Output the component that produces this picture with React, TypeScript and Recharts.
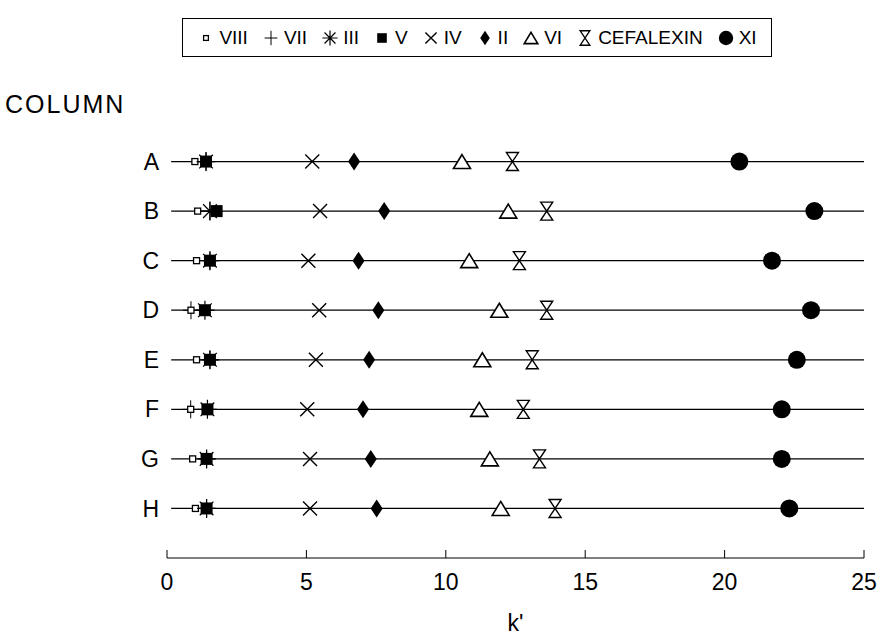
import React from 'react';
import { ScatterChart, Scatter, XAxis, YAxis, ReferenceLine } from 'recharts';

const columns = ['A', 'B', 'C', 'D', 'E', 'F', 'G', 'H'];
const xTicks = [0, 5, 10, 15, 20, 25];

// k' of each compound, one value per column A..H
const viii = [1.0, 1.1, 1.06, 0.86, 1.06, 0.85, 0.92, 1.02];
const vii = [1.4, 1.54, 1.54, 0.86, 1.54, 0.85, 1.42, 1.42];
const iii = [1.4, 1.54, 1.54, 1.36, 1.54, 1.45, 1.42, 1.42];
const v = [1.4, 1.78, 1.54, 1.36, 1.54, 1.45, 1.42, 1.42];
const iv = [5.21, 5.49, 5.07, 5.46, 5.34, 5.03, 5.13, 5.13];
const ii = [6.71, 7.79, 6.87, 7.58, 7.25, 7.03, 7.31, 7.52];
const vi = [10.58, 12.24, 10.84, 11.92, 11.31, 11.2, 11.58, 11.97];
const cefalexin = [12.39, 13.62, 12.64, 13.62, 13.1, 12.78, 13.36, 13.92];
const xi = [20.53, 23.22, 21.7, 23.1, 22.59, 22.05, 22.05, 22.32];

const FONT = '"Liberation Sans", Arial, Helvetica, sans-serif';

const rowY = (i: number) => columns.length - i;
const toPoints = (vals: number[]) => vals.map((k, i) => ({ k, y: rowY(i) }));

// marker drawings, s = scale
const drawOpenSquare = (cx: number, cy: number, s = 1) => (
  <rect x={cx - 3 * s} y={cy - 3 * s} width={6 * s} height={6 * s} fill="#fff" stroke="#000" strokeWidth={1.3} />
);
const drawPlus = (cx: number, cy: number, s = 1) => (
  <path d={`M${cx},${cy - 9 * s}V${cy + 9 * s}M${cx - 8 * s},${cy}H${cx + 8 * s}`} stroke="#000" strokeWidth={1} fill="none" />
);
const drawAsterisk = (cx: number, cy: number, s = 1) => {
  const r = 9.5 * s;
  const d = r * 0.72;
  return (
    <path
      d={`M${cx},${cy - r}V${cy + r}M${cx - r},${cy}H${cx + r}M${cx - d},${cy - d}L${cx + d},${cy + d}M${cx - d},${cy + d}L${cx + d},${cy - d}`}
      stroke="#000" strokeWidth={1.2} fill="none"
    />
  );
};
const drawFilledSquare = (cx: number, cy: number, s = 1) => (
  <rect x={cx - 6 * s} y={cy - 6 * s} width={12 * s} height={12 * s} fill="#000" />
);
const drawCross = (cx: number, cy: number, s = 1) => {
  const r = 7 * s;
  return <path d={`M${cx - r},${cy - r}L${cx + r},${cy + r}M${cx - r},${cy + r}L${cx + r},${cy - r}`} stroke="#000" strokeWidth={1.4} fill="none" />;
};
const drawDiamond = (cx: number, cy: number, s = 1) => (
  <path d={`M${cx},${cy - 9 * s}L${cx + 6 * s},${cy}L${cx},${cy + 9 * s}L${cx - 6 * s},${cy}Z`} fill="#000" />
);
const drawTriangle = (cx: number, cy: number, s = 1) => (
  <path d={`M${cx},${cy - 7 * s}L${cx + 8.5 * s},${cy + 7 * s}L${cx - 8.5 * s},${cy + 7 * s}Z`} fill="#fff" stroke="#000" strokeWidth={1.6} />
);
const drawHourglass = (cx: number, cy: number, s = 1) => (
  <path d={`M${cx - 6 * s},${cy - 9 * s}H${cx + 6 * s}L${cx - 6 * s},${cy + 9 * s}H${cx + 6 * s}Z`} fill="#fff" stroke="#000" strokeWidth={1.4} strokeLinejoin="miter" />
);
const drawDot = (cx: number, cy: number, s = 1) => <circle cx={cx} cy={cy} r={9 * s} fill="#000" />;

const series = [
  { name: 'VII', values: vii, draw: drawPlus },
  { name: 'VIII', values: viii, draw: drawOpenSquare },
  { name: 'III', values: iii, draw: drawAsterisk },
  { name: 'V', values: v, draw: drawFilledSquare },
  { name: 'IV', values: iv, draw: drawCross },
  { name: 'II', values: ii, draw: drawDiamond },
  { name: 'VI', values: vi, draw: drawTriangle },
  { name: 'CEFALEXIN', values: cefalexin, draw: drawHourglass },
  { name: 'XI', values: xi, draw: drawDot },
];

const legendOrder = ['VIII', 'VII', 'III', 'V', 'IV', 'II', 'VI', 'CEFALEXIN', 'XI'];

const AxisTick = ({ x, y, payload }: any) => (
  <g>
    <line x1={x} y1={y} x2={x} y2={y - 8} stroke="#000" strokeWidth={1} />
    <text x={x} y={y + 32} textAnchor="middle" fontSize={23} fill="#000" fontFamily={FONT}>
      {payload.value}
    </text>
  </g>
);

const App: React.FC = () => {
  return (
    <div style={{ position: 'absolute', left: 0, top: 0, width: 878, height: 638, background: '#fff', fontFamily: FONT }}>
      <div
        style={{
          position: 'absolute', left: 182, top: 18, width: 590, height: 39, boxSizing: 'border-box',
          border: '1px solid #000', display: 'flex', alignItems: 'center', justifyContent: 'center', gap: 14,
          fontSize: 19, color: '#000',
        }}
      >
        {legendOrder.map((name) => {
          const s = series.find((it) => it.name === name)!;
          return (
            <div key={name} style={{ display: 'flex', alignItems: 'center', gap: 4 }}>
              <svg width={18} height={20}>{s.draw(9, 10, 0.8)}</svg>
              <span>{name}</span>
            </div>
          );
        })}
      </div>
      <div style={{ position: 'absolute', left: 5, top: 90, fontSize: 25, letterSpacing: 2, color: '#000' }}>COLUMN</div>
      <ScatterChart width={878} height={638} margin={{ top: 112, right: 14, bottom: 0, left: 0 }}>
        <XAxis
          type="number"
          dataKey="k"
          domain={[0, 25]}
          ticks={xTicks}
          axisLine={{ stroke: '#000', strokeWidth: 1 }}
          tickLine={false}
          tickSize={0}
          tickMargin={0}
          tick={<AxisTick />}
          height={80}
          label={{ value: "k'", position: 'insideBottom', offset: 7, fill: '#000', fontSize: 23, fontFamily: FONT }}
        />
        <YAxis
          type="number"
          dataKey="y"
          domain={[0, 9]}
          ticks={[1, 2, 3, 4, 5, 6, 7, 8]}
          tickFormatter={(val: number) => columns[columns.length - val]}
          axisLine={false}
          tickLine={false}
          tickSize={0}
          tickMargin={8}
          width={167}
          tick={{ fill: '#000', fontSize: 23, fontFamily: FONT }}
        />
        {columns.map((c, i) => (
          <ReferenceLine
            key={c}
            segment={[{ x: 0.15, y: rowY(i) }, { x: 25, y: rowY(i) }]}
            stroke="#000"
            strokeWidth={1.2}
          />
        ))}
        {series.map((s) => (
          <Scatter
            key={s.name}
            name={s.name}
            data={toPoints(s.values)}
            isAnimationActive={false}
            shape={(p: any) => s.draw(p.cx, p.cy)}
          />
        ))}
      </ScatterChart>
    </div>
  );
};

export default App;
